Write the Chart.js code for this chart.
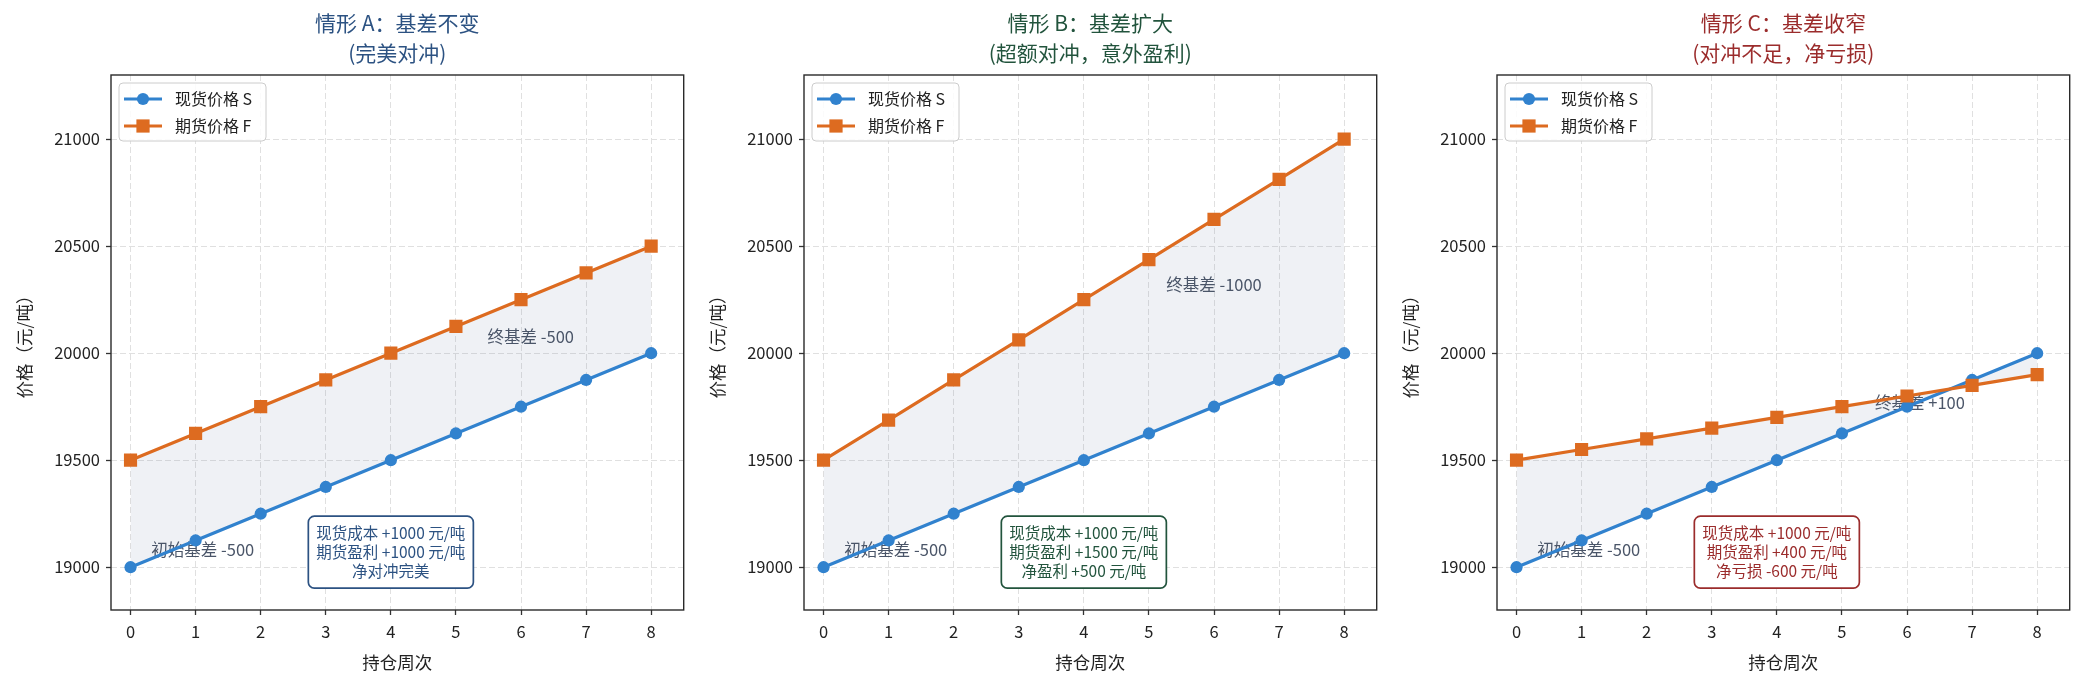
<!DOCTYPE html>
<html>
<head>
<meta charset="utf-8">
<script src="https://cdn.jsdelivr.net/npm/chart.js@4.4.1/dist/chart.umd.min.js"></script>
<style>
  body { margin: 0; background: #fff; width: 2086px; height: 686px; overflow: hidden; position: relative; }
  .panel { position: absolute; top: 0; width: 693px; height: 686px; }
</style>
</head>
<body>
<div class="panel" style="left:0px"><canvas id="chartA"></canvas></div>
<div class="panel" style="left:693px"><canvas id="chartB"></canvas></div>
<div class="panel" style="left:1386px"><canvas id="chartC"></canvas></div>
<script>
// data
const weeks = [0, 1, 2, 3, 4, 5, 6, 7, 8];
const spotPrice = [19000, 19125, 19250, 19375, 19500, 19625, 19750, 19875, 20000];
const futuresA = [19500, 19625, 19750, 19875, 20000, 20125, 20250, 20375, 20500];
const futuresB = [19500, 19687.5, 19875, 20062.5, 20250, 20437.5, 20625, 20812.5, 21000];
const futuresC = [19500, 19550, 19600, 19650, 19700, 19750, 19800, 19850, 19900];
const yTicks = [19000, 19500, 20000, 20500, 21000];
const seriesNames = ['现货价格 S', '期货价格 F'];
const startBasisText = '初始基差 -500';

const FONT = '"Noto Sans CJK SC", "Noto Sans", sans-serif';
const BLUE = '#3182ce';
const ORANGE = '#dd6b20';

function roundRectPath(ctx, x, y, w, h, r) {
  ctx.beginPath();
  ctx.moveTo(x + r, y);
  ctx.lineTo(x + w - r, y);
  ctx.arcTo(x + w, y, x + w, y + r, r);
  ctx.lineTo(x + w, y + h - r);
  ctx.arcTo(x + w, y + h, x + w - r, y + h, r);
  ctx.lineTo(x + r, y + h);
  ctx.arcTo(x, y + h, x, y + h - r, r);
  ctx.lineTo(x, y + r);
  ctx.arcTo(x, y, x + r, y, r);
  ctx.closePath();
}

function drawMarker(ctx, style, x, y, color) {
  ctx.fillStyle = color;
  if (style === 'rect') {
    ctx.fillRect(x - 6.6, y - 6.6, 13.2, 13.2);
  } else {
    ctx.beginPath();
    ctx.arc(x, y, 6.1, 0, Math.PI * 2);
    ctx.fill();
  }
}

// frame, basis labels, summary box, legend
const panelDecor = {
  id: 'panelDecor',
  beforeDatasetsDraw(chart, args, opts) {
    const ctx = chart.ctx;
    const xs = chart.scales.x, ys = chart.scales.y;
    ctx.save();
    ctx.font = '16.5px ' + FONT;
    ctx.fillStyle = '#4a5568';
    ctx.textAlign = 'center';
    ctx.textBaseline = 'middle';
    opts.basisLabels.forEach(l => {
      ctx.fillText(l.text, xs.getPixelForValue(l.at[0]), ys.getPixelForValue(l.at[1]));
    });
    ctx.restore();
  },
  afterDatasetsDraw(chart, args, opts) {
    const ctx = chart.ctx;
    const ca = chart.chartArea;
    const xs = chart.scales.x, ys = chart.scales.y;
    ctx.save();
    // summary box
    ctx.font = '15.5px ' + FONT;
    const lineH = 19;
    let wMax = 0;
    opts.summary.forEach(t => { wMax = Math.max(wMax, ctx.measureText(t).width); });
    const bw = wMax + 16, bh = opts.summary.length * lineH + 15;
    const cx = xs.getPixelForValue(opts.summaryAt[0]);
    const cy = ys.getPixelForValue(opts.summaryAt[1]);
    roundRectPath(ctx, cx - bw / 2, cy - bh / 2, bw, bh, 6);
    ctx.fillStyle = '#ffffff';
    ctx.fill();
    ctx.lineWidth = 1.7;
    ctx.strokeStyle = opts.color;
    ctx.stroke();
    ctx.fillStyle = opts.color;
    ctx.textAlign = 'center';
    ctx.textBaseline = 'middle';
    opts.summary.forEach((t, i) => {
      ctx.fillText(t, cx, cy - bh / 2 + 7.5 + lineH * (i + 0.5));
    });
    // axes frame
    ctx.lineWidth = 1.4;
    ctx.strokeStyle = '#2a2a2a';
    ctx.strokeRect(ca.left, ca.top, ca.right - ca.left, ca.bottom - ca.top);
    ctx.restore();
  },
  afterDraw(chart) {
    const ctx = chart.ctx;
    const ca = chart.chartArea;
    ctx.save();
    const bx = ca.left + 8, by = ca.top + 8;
    roundRectPath(ctx, bx, by, 147, 58, 4);
    ctx.fillStyle = 'rgba(255,255,255,0.85)';
    ctx.fill();
    ctx.lineWidth = 1;
    ctx.strokeStyle = '#cccccc';
    ctx.stroke();
    ctx.font = '16px ' + FONT;
    ctx.textAlign = 'left';
    ctx.textBaseline = 'middle';
    chart.data.datasets.forEach((ds, i) => {
      const y = by + 16 + i * 27;
      ctx.strokeStyle = ds.borderColor;
      ctx.lineWidth = 3.2;
      ctx.beginPath();
      ctx.moveTo(bx + 5, y);
      ctx.lineTo(bx + 43, y);
      ctx.stroke();
      drawMarker(ctx, ds.pointStyle, bx + 24, y, ds.borderColor);
      ctx.fillStyle = '#222222';
      ctx.fillText(ds.label, bx + 56, y);
    });
    ctx.restore();
  }
};

function makePanel(canvasId, futures, title, color, summary, summaryAt, endText, endAt) {
  const spotPts = weeks.map((w, i) => ({ x: w, y: spotPrice[i] }));
  const futPts = weeks.map((w, i) => ({ x: w, y: futures[i] }));
  return new Chart(document.getElementById(canvasId), {
    type: 'line',
    data: {
      datasets: [
        {
          label: seriesNames[0], data: spotPts,
          borderColor: BLUE, backgroundColor: BLUE, borderWidth: 3.2,
          pointStyle: 'circle', pointRadius: 6.1, pointBackgroundColor: BLUE,
          pointBorderWidth: 0, fill: false, order: 1
        },
        {
          label: seriesNames[1], data: futPts,
          borderColor: ORANGE, backgroundColor: 'rgba(100,116,160,0.1)', borderWidth: 3.2,
          pointStyle: 'rect', pointRadius: 9.3, pointBackgroundColor: ORANGE,
          pointBorderWidth: 0, fill: '-1', order: 0
        }
      ]
    },
    options: {
      responsive: true,
      maintainAspectRatio: false,
      animation: false,
      layout: { padding: { left: 0, right: 7, top: 0, bottom: 0 } },
      plugins: {
        legend: { display: false },
        tooltip: { enabled: false },
        filler: { drawTime: 'beforeDatasetsDraw' },
        title: {
          display: true, text: title, color: color, fullSize: false,
          font: { family: FONT, size: 21, weight: 'normal', lineHeight: '30px' },
          padding: { top: 8, bottom: 7 }
        },
        panelDecor: {
          color: color,
          summary: summary,
          summaryAt: summaryAt,
          basisLabels: [
            { text: startBasisText, at: [1.11, 19080] },
            { text: endText, at: endAt }
          ]
        }
      },
      scales: {
        x: {
          type: 'linear', min: -0.3, max: 8.5,
          afterBuildTicks: s => { s.ticks = weeks.map(v => ({ value: v })); },
          afterFit: s => { s.height = 76; },
          ticks: { font: { family: FONT, size: 16.5 }, color: '#222', padding: 7, callback: v => String(v) },
          grid: { color: '#e0e0e0', lineWidth: 1, drawTicks: true, tickLength: 5, tickColor: '#333', tickWidth: 1.3 },
          border: { display: false, dash: [6, 3] },
          title: { display: true, text: '持仓周次', color: '#222', font: { family: FONT, size: 17.5 }, padding: { top: 0, bottom: 13.5 } }
        },
        y: {
          type: 'linear', min: 18800, max: 21300,
          afterBuildTicks: s => { s.ticks = yTicks.map(v => ({ value: v })); },
          afterFit: s => { s.width = 111; },
          ticks: { font: { family: FONT, size: 16.5 }, color: '#222', padding: 6, callback: v => String(v) },
          grid: { color: '#e0e0e0', lineWidth: 1, drawTicks: true, tickLength: 5, tickColor: '#333', tickWidth: 1.3 },
          border: { display: false, dash: [6, 3] },
          title: { display: true, text: '价格（元/吨）', color: '#222', font: { family: FONT, size: 17.5 }, padding: { top: 13.5, bottom: 0 } }
        }
      }
    },
    plugins: [panelDecor]
  });
}

makePanel('chartA', futuresA, ['情形 A：基差不变', '(完美对冲)'], '#2c5282',
  ['现货成本 +1000 元/吨', '期货盈利 +1000 元/吨', '净对冲完美'], [4, 19070],
  '终基差 -500', [6.15, 20075]);
makePanel('chartB', futuresB, ['情形 B：基差扩大', '(超额对冲，意外盈利)'], '#22543d',
  ['现货成本 +1000 元/吨', '期货盈利 +1500 元/吨', '净盈利 +500 元/吨'], [4, 19070],
  '终基差 -1000', [6.0, 20320]);
makePanel('chartC', futuresC, ['情形 C：基差收窄', '(对冲不足，净亏损)'], '#9b2c2c',
  ['现货成本 +1000 元/吨', '期货盈利 +400 元/吨', '净亏损 -600 元/吨'], [4, 19070],
  '终基差 +100', [6.2, 19770]);
</script>
</body>
</html>
